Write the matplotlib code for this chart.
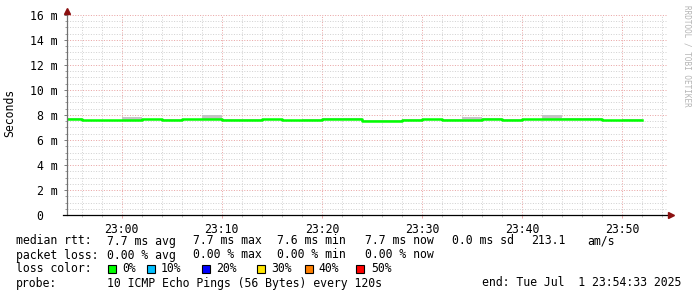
import numpy as np
import pandas as pd
import matplotlib
matplotlib.use("Agg")
import matplotlib.pyplot as plt
import matplotlib.dates as mdates
from matplotlib.ticker import MultipleLocator, FuncFormatter
from matplotlib.patches import Rectangle

# median rtt per 2 minute step (ms), and the smoke range around it
median_rtt = [7.64, 7.58, 7.58, 7.58, 7.66, 7.62, 7.66, 7.68, 7.62, 7.62,
              7.66, 7.58, 7.58, 7.70, 7.65, 7.54, 7.54, 7.62, 7.65, 7.58,
              7.56, 7.70, 7.60, 7.66, 7.66, 7.66, 7.70, 7.56, 7.62]
smoke_hi = [7.74, 7.62, 7.62, 7.84, 7.70, 7.70, 7.70, 7.98, 7.68, 7.68,
            7.70, 7.62, 7.66, 7.74, 7.72, 7.58, 7.58, 7.70, 7.70, 7.68,
            7.84, 7.74, 7.68, 7.70, 7.98, 7.72, 7.74, 7.60, 7.70]
smoke_lo = [7.60, 7.54, 7.54, 7.54, 7.62, 7.58, 7.62, 7.64, 7.58, 7.58,
            7.62, 7.54, 7.52, 7.66, 7.61, 7.50, 7.50, 7.58, 7.61, 7.54,
            7.52, 7.66, 7.56, 7.62, 7.62, 7.62, 7.66, 7.52, 7.58]

rtt_stats = [("avg", 7.7), ("max", 7.7), ("min", 7.6), ("now", 7.7)]
rtt_sd = 0.0
rtt_am = 213.1
loss_stats = [("avg", 0.00), ("max", 0.00), ("min", 0.00), ("now", 0.00)]
loss_levels = ["0%", "10%", "20%", "30%", "40%", "50%"]
loss_colors = ["#00ff00", "#00bfff", "#0000ff", "#ffe600", "#ff8000", "#ff0000"]
probe_text = "10 ICMP Echo Pings (56 Bytes) every 120s"
end_text = "end: Tue Jul  1 23:54:33 2025"

step_start = pd.Timestamp("2025-07-01 22:54")
view_start = pd.Timestamp("2025-07-01 22:54:33")
view_end = pd.Timestamp("2025-07-01 23:54:33")

edges = mdates.date2num(pd.date_range(step_start, periods=len(median_rtt) + 1, freq="2min"))

W, H = 697, 297
mono = "DejaVu Sans Mono"
fs = 8.3

fig = plt.figure(figsize=(W / 100, H / 100), dpi=100)
ax = fig.add_axes([67 / W, 82 / H, 601 / W, 200 / H])

# smoke and median
hi = np.append(smoke_hi, smoke_hi[-1])
lo = np.append(smoke_lo, smoke_lo[-1])
med = np.append(median_rtt, median_rtt[-1])
ax.fill_between(edges, lo, hi, step="post", color="#c4c4c4", linewidth=0, zorder=2)
ax.step(edges, med, where="post", color="#00ff00", linewidth=1.8, zorder=3)

ax.set_xlim(mdates.date2num(view_start), mdates.date2num(view_end))
ax.set_ylim(0, 16)

ax.xaxis.set_major_locator(mdates.MinuteLocator(byminute=range(0, 60, 10)))
ax.xaxis.set_minor_locator(mdates.MinuteLocator(byminute=range(0, 60, 2)))
ax.xaxis.set_major_formatter(mdates.DateFormatter("%H:%M"))
ax.yaxis.set_major_locator(MultipleLocator(2))
ax.yaxis.set_minor_locator(MultipleLocator(0.5))
ax.yaxis.set_major_formatter(FuncFormatter(lambda v, p: "0  " if v == 0 else f"{v:.0f} m"))

ax.grid(which="minor", color="#d2d2d2", linestyle=(0, (1, 1.6)), linewidth=0.72)
ax.grid(which="major", color="#e9a4a4", linestyle=(0, (1, 1.6)), linewidth=0.72)
ax.set_axisbelow(True)

ax.tick_params(axis="y", which="major", direction="out", length=2.5, width=0.72,
               color="#808080", pad=4.3, labelsize=fs)
ax.tick_params(axis="y", which="minor", direction="out", length=1.5, width=0.72, color="#a0a0a0")
ax.tick_params(axis="x", which="major", direction="out", length=2.5, width=0.72,
               color="#eaa8a8", pad=3, labelsize=fs)
ax.tick_params(axis="x", which="minor", direction="out", length=1.5, width=0.72, color="#c0c0c0")
for lab in ax.get_xticklabels() + ax.get_yticklabels():
    lab.set_family(mono)

for s in ax.spines.values():
    s.set_visible(False)

# axis lines and arrows
ax.plot([0, 0], [0, 1.02], color="#707070", linewidth=0.9, transform=ax.transAxes, clip_on=False, zorder=4)
ax.plot([-4 / 601, 1.004], [0, 0], color="black", linewidth=0.9, transform=ax.transAxes, clip_on=False, zorder=4)
ax.plot([0], [1.02], marker="^", markersize=4, color="#8b1010", transform=ax.transAxes, clip_on=False, zorder=5)
ax.plot([1.0045], [0], marker=">", markersize=4, color="#8b1010", transform=ax.transAxes, clip_on=False, zorder=5)

fig.text(10 / W, 1 - 113 / H, "Seconds", rotation=90, ha="center", va="center", family=mono, fontsize=fs)
fig.text(687 / W, 1 - 5 / H, "RRDTOOL / TOBI OETIKER", rotation=270, ha="center", va="top",
         family=mono, fontsize=5.5, color="#b4b4b4")


def put(x, y, text, ha="left"):
    # y is the visual centre of the line; place the baseline a little below it
    fig.text(x / W, 1 - (y + 3.5) / H, text, ha=ha, va="baseline", family=mono, fontsize=fs, color="black")


# legend lines
y1, y2, y3, y4 = 241, 255, 269, 283
put(16, y1, "median rtt:")
for x, (name, v) in zip([107, 193, 277, 365], rtt_stats):
    put(x, y1, f"{v:.1f} ms {name}")
put(452, y1, f"{rtt_sd:.1f} ms sd")
put(531, y1, f"{rtt_am:.1f}")
put(587, y1, "am/s")

put(16, y2, "packet loss:")
for x, (name, v) in zip([107, 193, 277, 365], loss_stats):
    put(x, y2, f"{v:.2f} % {name}")

put(16, y3, "loss color:")
for bx, tx, lvl, col in zip([108, 147, 202, 257, 305, 356], [122, 161, 216, 271, 318, 371],
                            loss_levels, loss_colors):
    fig.add_artist(Rectangle((bx / W, 1 - 273 / H), 8 / W, 8 / H, transform=fig.transFigure,
                             facecolor=col, edgecolor="black", linewidth=0.8))
    put(tx, y3, lvl)

put(16, y4, "probe:")
put(107, y4, probe_text)
put(681, y4, end_text, ha="right")

fig.savefig("out.png", dpi=100, facecolor="white")
